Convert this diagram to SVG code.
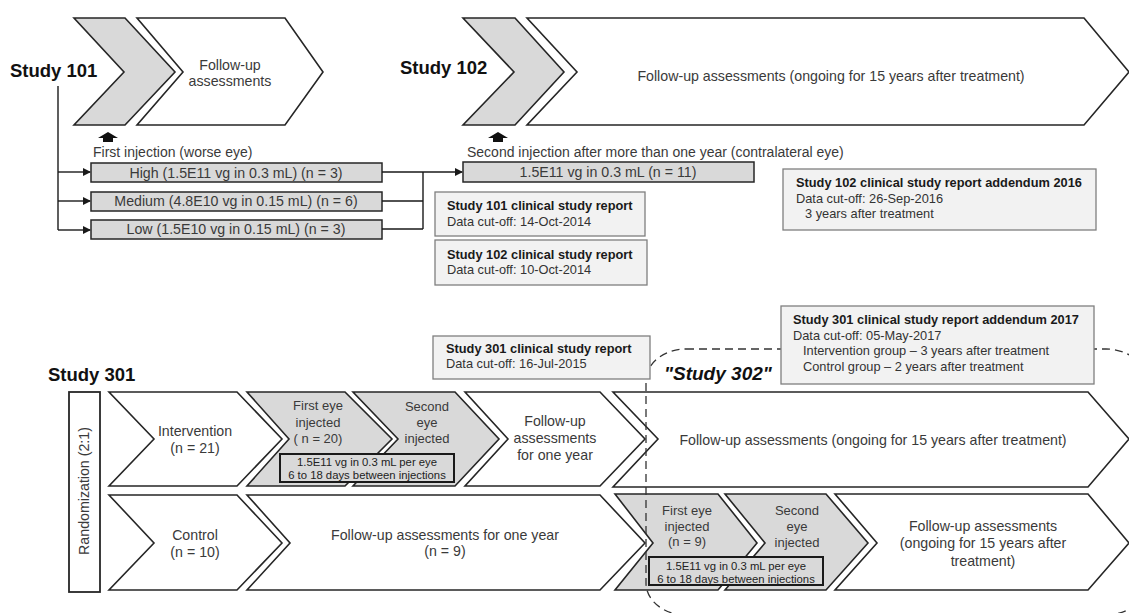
<svg xmlns="http://www.w3.org/2000/svg" width="1129" height="613" viewBox="0 0 1129 613">
<defs>
<style>
text{font-family:"Liberation Sans",Arial,sans-serif;fill:#3a3a3a}
.h{font-size:18.5px;font-weight:bold;fill:#111}
.c{text-anchor:middle;font-size:14.2px}
.e{font-size:13px}
.s{font-size:14px}
.w{fill:#fff;stroke:#262626;stroke-width:1.6;stroke-linejoin:miter}
.g{fill:#d9d9d9;stroke:#262626;stroke-width:1.6}
.db{fill:#d9d9d9;stroke:#262626;stroke-width:1.5}
.sb{fill:#d9d9d9;stroke:#1a1a1a;stroke-width:2}
.rb{fill:#f2f2f2;stroke:#7f7f7f;stroke-width:1.3}
.rt{font-size:12.8px;font-weight:bold;fill:#1a1a1a}
.rd{font-size:12.8px;fill:#333}
.sm{text-anchor:middle;font-size:11.3px;fill:#222}
.ln{fill:none;stroke:#1a1a1a;stroke-width:1.4}
</style>
<marker id="ah" markerWidth="8" markerHeight="8" refX="7" refY="4" orient="auto" markerUnits="userSpaceOnUse">
<path d="M0,0 L8,4 L0,8 Z" fill="#1a1a1a"/>
</marker>
</defs>

<text class="h" x="10" y="77">Study 101</text>
<text class="h" x="400" y="74">Study 102</text>
<text class="h" x="48" y="381">Study 301</text>

<g id="s101-inject"><polygon class="g" points="74,18 125,18 175,72 125,125 74,125 124,72"/></g>
<g id="s101-followup"><polygon class="w" points="137,18 285,18 323,72 285,125 137,125 183,72"/>
<text class="c" x="230" y="70">Follow-up</text><text class="c" x="230" y="86">assessments</text></g>

<g id="s102-inject"><polygon class="g" points="463,18 515,18 564,72 515,125 463,125 514,72"/></g>
<g id="s102-followup"><polygon class="w" points="527,18 1084,18 1129,72 1084,125 527,125 577,72"/>
<text class="c" x="831" y="81">Follow-up assessments (ongoing for 15 years after treatment)</text></g>

<text class="s" x="93" y="157">First injection (worse eye)</text>
<text class="s" x="467" y="157">Second injection after more than one year (contralateral eye)</text>

<g id="dose-high"><rect class="db" x="91" y="163" width="291" height="19"/><text class="c" x="236" y="178">High (1.5E11 vg in 0.3 mL) (n = 3)</text></g>
<g id="dose-medium"><rect class="db" x="91" y="192" width="291" height="19"/><text class="c" x="236" y="206">Medium (4.8E10 vg in 0.15 mL) (n = 6)</text></g>
<g id="dose-low"><rect class="db" x="91" y="220" width="291" height="19"/><text class="c" x="236" y="234">Low (1.5E10 vg in 0.15 mL) (n = 3)</text></g>
<g id="dose-102"><rect class="db" x="463" y="162" width="291" height="20"/><text class="c" x="608" y="177">1.5E11 vg in 0.3 mL (n = 11)</text></g>

<g id="csr101"><rect class="rb" x="435" y="192" width="210" height="44"/>
<text class="rt" x="447" y="210">Study 101 clinical study report</text><text class="rd" x="447" y="226">Data cut-off: 14-Oct-2014</text></g>
<g id="csr102"><rect class="rb" x="435" y="240" width="212" height="45"/>
<text class="rt" x="447" y="259">Study 102 clinical study report</text><text class="rd" x="447" y="274">Data cut-off: 10-Oct-2014</text></g>
<g id="csr102-add"><rect class="rb" x="783" y="169" width="313" height="61"/>
<text class="rt" x="796" y="187">Study 102 clinical study report addendum 2016</text><text class="rd" x="796" y="203">Data cut-off: 26-Sep-2016</text><text class="rd" x="805" y="218">3 years after treatment</text></g>

<g id="randomization"><rect x="69" y="392" width="31" height="200" fill="#fff" stroke="#262626" stroke-width="1.8"/>
<text class="c" transform="translate(89,491) rotate(-90)" x="0" y="0">Randomization (2:1)</text></g>

<g id="intervention"><polygon class="w" points="109,392 237,392 282,439 237,486 109,486 154,439"/>
<text class="c" x="195" y="436">Intervention</text><text class="c" x="195" y="453">(n = 21)</text></g>
<g id="int-first"><polygon class="g" points="247,392 345,392 392,439 345,486 247,486 289,439"/>
<text class="c e" x="318" y="410">First eye</text><text class="c e" x="318" y="427">injected</text><text class="c e" x="318" y="443">( n = 20)</text></g>
<g id="int-second"><polygon class="g" points="353,392 455,392 499,439 455,486 353,486 398,439"/>
<text class="c e" x="427" y="411">Second</text><text class="c e" x="427" y="427">eye</text><text class="c e" x="427" y="443">injected</text></g>
<g id="int-dose"><rect class="sb" x="280" y="454" width="174" height="28"/>
<text class="sm" x="367" y="466">1.5E11 vg in 0.3 mL per eye</text><text class="sm" x="367" y="479">6 to 18 days between injections</text></g>
<g id="int-followup1"><polygon class="w" points="465,392 600,392 645,439 600,486 465,486 508,439"/>
<text class="c" x="555" y="426">Follow-up</text><text class="c" x="555" y="443">assessments</text><text class="c" x="555" y="460">for one year</text></g>
<g id="int-followup15"><polygon class="w" points="613,392 1088,392 1129,439 1088,487 613,487 658,439"/>
<text class="c" x="873" y="445">Follow-up assessments (ongoing for 15 years after treatment)</text></g>

<g id="control"><polygon class="w" points="109,495 237,495 282,543 237,590 109,590 154,543"/>
<text class="c" x="195" y="540">Control</text><text class="c" x="195" y="557">(n = 10)</text></g>
<g id="ctl-followup1"><polygon class="w" points="247,495 600,495 645,543 600,590 247,590 290,543"/>
<text class="c" x="445" y="540">Follow-up assessments for one year</text><text class="c" x="445" y="556">(n = 9)</text></g>
<g id="ctl-first"><polygon class="g" points="615,494 718,494 757,543 718,590 615,590 653,543"/>
<text class="c e" x="687" y="515">First eye</text><text class="c e" x="687" y="531">injected</text><text class="c e" x="687" y="546">(n = 9)</text></g>
<g id="ctl-second"><polygon class="g" points="725,494 826,494 868,543 826,590 725,590 765,543"/>
<text class="c e" x="797" y="515">Second</text><text class="c e" x="797" y="531">eye</text><text class="c e" x="797" y="547">injected</text></g>
<g id="ctl-dose"><rect class="sb" x="649" y="557" width="174" height="28"/>
<text class="sm" x="736" y="570">1.5E11 vg in 0.3 mL per eye</text><text class="sm" x="736" y="583">6 to 18 days between injections</text></g>
<g id="ctl-followup15"><polygon class="w" points="835,494 1088,494 1129,543 1088,590 835,590 877,543"/>
<text class="c" x="983" y="531">Follow-up assessments</text><text class="c" x="983" y="548">(ongoing for 15 years after</text><text class="c" x="983" y="566">treatment)</text></g>

<g id="study302"><rect x="646" y="349" width="500" height="266" rx="40" ry="32" fill="none" stroke="#333" stroke-width="1.3" stroke-dasharray="8,5"/>
<text x="664" y="380" style="font-size:19px;font-weight:bold;font-style:italic;fill:#111">"Study 302"</text></g>

<g id="csr301"><rect class="rb" x="433" y="336" width="217" height="43"/>
<text class="rt" x="446" y="353">Study 301 clinical study report</text><text class="rd" x="446" y="368">Data cut-off: 16-Jul-2015</text></g>
<g id="csr301-add"><rect class="rb" x="781" y="306" width="313" height="78"/>
<text class="rt" x="793" y="324">Study 301 clinical study report addendum 2017</text><text class="rd" x="793" y="340">Data cut-off: 05-May-2017</text>
<text class="rd" x="803" y="355">Intervention group – 3 years after treatment</text><text class="rd" x="803" y="371">Control group – 2 years after treatment</text></g>

<g id="connectors">
<path class="ln" d="M58,86 V230"/>
<path class="ln" d="M58,172 H90" marker-end="url(#ah)"/>
<path class="ln" d="M58,201 H90" marker-end="url(#ah)"/>
<path class="ln" d="M58,230 H90" marker-end="url(#ah)"/>
<path class="ln" d="M382,172 H423 M382,201 H423 M382,229 H423 M423,172 V229"/>
<path class="ln" d="M423,172 H462" marker-end="url(#ah)"/>
<polygon points="108,132 118,138 113,138 113,142 103,142 103,138 98,138" fill="#111"/>
<polygon points="498,132 508,138 503,138 503,142 493,142 493,138 488,138" fill="#111"/>
</g>
</svg>
